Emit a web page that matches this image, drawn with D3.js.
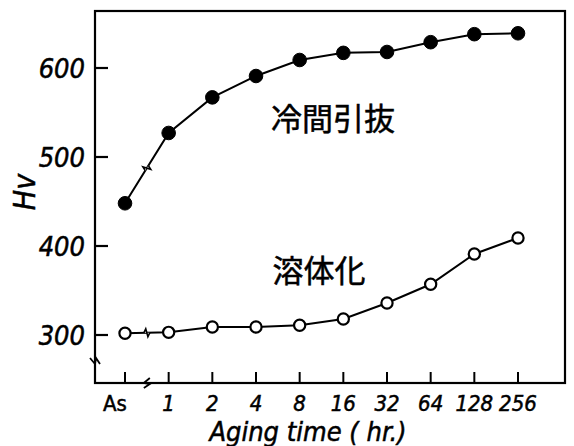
<!DOCTYPE html>
<html>
<head>
<meta charset="utf-8">
<script src="https://cdn.jsdelivr.net/npm/d3@7"></script>
<style>
  body { margin: 0; background: #fff; }
  svg text { fill: #000; stroke: #000; stroke-width: 0.5; }
</style>
</head>
<body>
<svg id="chart" width="574" height="446"></svg>
<script>
// aging time categories (hr.), As = as treated
const agingTimes = ["As", "1", "2", "4", "8", "16", "32", "64", "128", "256"];
// Hv, cold drawn (冷間引抜) - filled circles
const coldDrawnHv = [448, 527, 567, 591, 609, 617, 618, 629, 638, 639];
// Hv, solution treated (溶体化) - open circles
const solutionHv = [302, 303, 309, 309, 311, 318, 336, 357, 391, 409];
const hvTicks = [300, 400, 500, 600];

const FRAME_LEFT = 95;
const FRAME_RIGHT = 565;
const FRAME_TOP = 11;
const FRAME_BOTTOM = 383;

const svg = d3.select("#chart");

const x = d3.scalePoint().domain(agingTimes).range([125, 518]);
const y = d3.scaleLinear().domain([300, 600]).range([335, 68]);

const handFont = "'DejaVu Sans Condensed', 'Liberation Sans Narrow', 'DejaVu Sans', sans-serif";

// frame
svg.append("rect")
    .attr("x", FRAME_LEFT).attr("y", FRAME_TOP)
    .attr("width", FRAME_RIGHT - FRAME_LEFT).attr("height", FRAME_BOTTOM - FRAME_TOP)
    .attr("fill", "none").attr("stroke", "#000").attr("stroke-width", 2.2);

// y ticks (pointing inward)
svg.selectAll(".ytick").data(hvTicks).enter().append("line")
    .attr("x1", FRAME_LEFT).attr("x2", FRAME_LEFT + 13)
    .attr("y1", d => y(d)).attr("y2", d => y(d))
    .attr("stroke", "#000").attr("stroke-width", 2.2);

svg.selectAll(".ylabel").data(hvTicks).enter().append("text")
    .attr("x", FRAME_LEFT - 10).attr("y", d => y(d) + 10)
    .attr("text-anchor", "end")
    .attr("font-family", handFont).attr("font-style", "italic")
    .attr("font-size", 27)
    .text(d => d);

// x ticks (pointing up)
svg.selectAll(".xtick").data(agingTimes).enter().append("line")
    .attr("x1", d => x(d)).attr("x2", d => x(d))
    .attr("y1", FRAME_BOTTOM).attr("y2", FRAME_BOTTOM - 11)
    .attr("stroke", "#000").attr("stroke-width", 2);

svg.selectAll(".xlabel").data(agingTimes).enter().append("text")
    .attr("x", d => d === "As" ? x(d) - 10 : x(d)).attr("y", 411)
    .attr("text-anchor", "middle")
    .attr("font-family", handFont)
    .attr("font-style", d => d === "As" ? "normal" : "italic")
    .attr("font-size", 22)
    .text(d => d);

// axis title
svg.append("text")
    .attr("x", 308).attr("y", 441)
    .attr("text-anchor", "middle")
    .attr("font-family", handFont).attr("font-style", "italic")
    .attr("font-size", 27)
    .text("Aging time ( hr.)");

svg.append("text")
    .attr("transform", "translate(35,192) rotate(-90)")
    .attr("text-anchor", "middle")
    .attr("font-family", handFont).attr("font-style", "italic")
    .attr("font-size", 30)
    .text("Hv");

// break position between As and 1
const breakX = x("As") + (x("1") - x("As")) * 0.5;

function breakMark(cx, cy, angle) {
    svg.append("path")
        .attr("d", "M-5,-3 L0,3 L1,-3 L5,3")
        .attr("transform", "translate(" + cx + "," + cy + ") rotate(" + angle + ")")
        .attr("fill", "none").attr("stroke", "#000").attr("stroke-width", 1.8);
}

// axis breaks
breakMark(breakX, FRAME_BOTTOM, 90);
breakMark(FRAME_LEFT, 361, 0);

// series lines
const line = d3.line()
    .x((d, i) => x(agingTimes[i]))
    .y(d => y(d));

function drawSeries(values, filled) {
    svg.append("path")
        .datum(values)
        .attr("d", line)
        .attr("fill", "none").attr("stroke", "#000").attr("stroke-width", 2);

    // small break mark on the first segment
    const y0 = y(values[0]), y1 = y(values[1]);
    const by = y0 + (y1 - y0) * 0.5;
    const ang = Math.atan2(y1 - y0, x(agingTimes[1]) - x(agingTimes[0])) * 180 / Math.PI;
    svg.append("path")
        .attr("d", "M-3,0 L-1,-4 L1,4 L3,0")
        .attr("transform", "translate(" + breakX + "," + by + ") rotate(" + ang + ")")
        .attr("fill", "#fff").attr("stroke", "#000").attr("stroke-width", 1.6);

    svg.selectAll(null).data(values).enter().append("circle")
        .attr("cx", (d, i) => x(agingTimes[i]))
        .attr("cy", d => y(d))
        .attr("r", filled ? 6.8 : 5.6)
        .attr("fill", filled ? "#000" : "#fff")
        .attr("stroke", "#000").attr("stroke-width", filled ? 1 : 2.2);
}

drawSeries(coldDrawnHv, true);
drawSeries(solutionHv, false);

// series labels
svg.append("text")
    .attr("x", 333).attr("y", 130)
    .attr("text-anchor", "middle")
    .attr("font-family", "'Noto Sans CJK JP', sans-serif")
    .attr("font-size", 31)
    .text("冷間引抜");

svg.append("text")
    .attr("x", 319).attr("y", 282)
    .attr("text-anchor", "middle")
    .attr("font-family", "'Noto Sans CJK JP', sans-serif")
    .attr("font-size", 31)
    .text("溶体化");
</script>
</body>
</html>
